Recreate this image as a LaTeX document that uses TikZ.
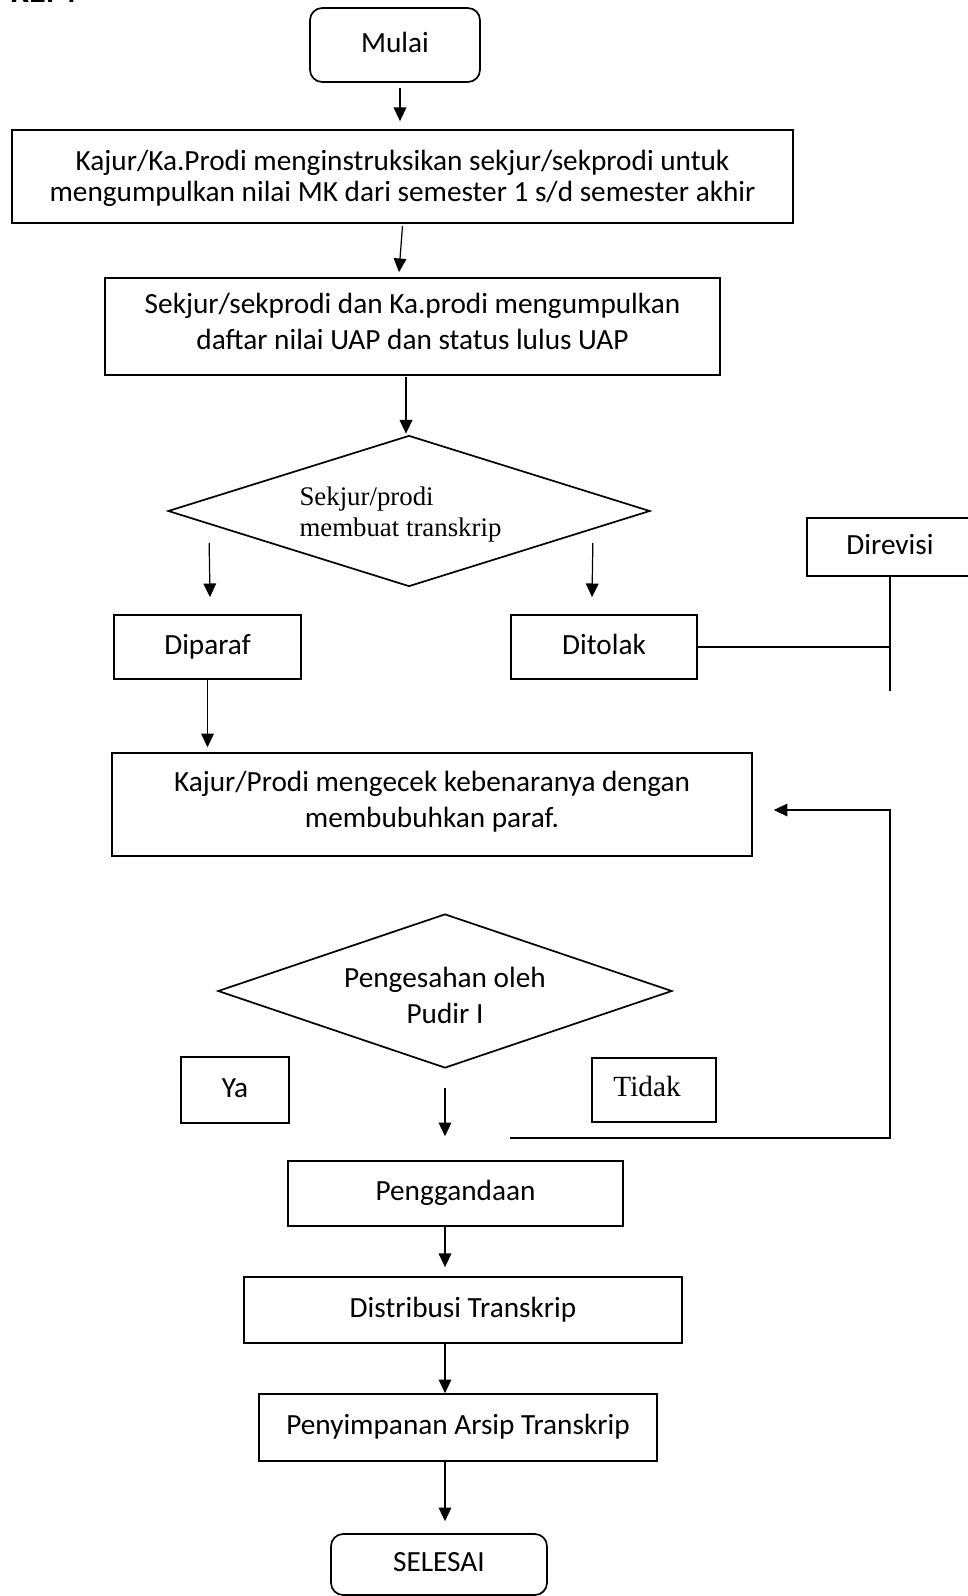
\documentclass[tikz,border=0pt]{standalone}
\usepackage{fontspec}
\setmainfont{Carlito}
\newfontfamily\tnr{Liberation Serif}
\usetikzlibrary{shapes.geometric,arrows.meta,calc}
\newcommand{\teks}{\fontsize{12}{14.7}\selectfont}

\begin{document}
\begin{tikzpicture}[x=0.41pt,y=-0.41pt,
  wh/.style 2 args={minimum width=#1*0.41pt,minimum height=#2*0.41pt},
  kotak/.style={draw,line width=0.7pt,inner sep=0pt,align=center,font=\teks,execute at begin node=\strut},
  bulat/.style={kotak,rounded corners=5pt},
  belah/.style={draw,diamond,line width=0.7pt,inner sep=0pt,shape aspect=3.2,align=center,font=\teks,execute at begin node=\strut},
  panah/.style={line width=0.5pt,-{Triangle[length=5.6pt,width=5.2pt]}},
  garis/.style={line width=0.5pt}]
\useasboundingbox (0,0) rectangle (968,1596);
\node[anchor=base west,inner sep=0pt,font=\fontsize{14}{16}\selectfont\bfseries] (judul) at (10,3) {KEM};
\node[bulat,wh={170}{74}] (mulai) at (395,45) {Mulai};
\node[kotak,wh={781}{93},font=\fontsize{12}{12.7}\selectfont] (instruksi) at (402.5,176.5) {\rule{0pt}{11.5pt}Kajur/Ka.Prodi menginstruksikan sekjur/sekprodi untuk\\mengumpulkan nilai MK dari semester 1 s/d semester akhir};
\node[kotak,wh={615}{97}] (kumpul) at (412.5,326.5) {Sekjur/sekprodi dan Ka.prodi mengumpulkan\\daftar nilai UAP dan status lulus UAP};
\node[belah,wh={482}{151},align=left,font=\tnr\fontsize{11}{12.7}\selectfont] (buat) at (409,511) {\rule{0pt}{12.3pt}Sekjur/prodi\\membuat transkrip\hbox to 7pt{}};
\node[kotak,wh={187}{64}] (diparaf) at (207.5,647) {Diparaf};
\node[kotak,wh={186}{64}] (ditolak) at (604,647) {Ditolak};
\node[kotak,wh={166}{58}] (direvisi) at (890,547) {Direvisi};
\node[kotak,wh={640}{103}] (cek) at (432,804.5) {Kajur/Prodi mengecek kebenaranya dengan\\membubuhkan paraf.};
\node[belah,wh={454}{154},shape aspect=2.95] (sah) at (445,991) {\rule{0pt}{16pt}Pengesahan oleh\\Pudir I};
\node[kotak,wh={108}{66}] (ya) at (235,1090) {Ya};
\node[kotak,wh={124}{64},font=\tnr\fontsize{12}{14}\selectfont] (tidak) at (654,1090) {Tidak\hbox to 5.7pt{}};
\node[kotak,wh={335}{65}] (gandakan) at (455.5,1193.5) {Penggandaan};
\node[kotak,wh={438}{66}] (distribusi) at (463,1310) {Distribusi Transkrip};
\node[kotak,wh={398}{67}] (simpan) at (458,1427.5) {Penyimpanan Arsip Transkrip};
\node[bulat,wh={216}{61}] (selesai) at (439,1564.5) {SELESAI};
\coordinate (balik) at (510,1138);
\coordinate (sudut) at (890,810);
\draw[panah] ($(mulai.south)+(5,5)$) -- ($(instruksi.north)+(-2.5,-8)$);
\draw[panah] ($(instruksi.south)+(0,2)$) -- ($(kumpul.north)+(-13.5,-5)$);
\draw[panah] ($(kumpul.south)+(-6.5,1)$) -- ($(buat.north)+(-3,-1)$);
\draw[panah] ($(buat.west)+(42,32)$) -- ($(diparaf.north)+(2.5,-17)$);
\draw[panah] ($(buat.east)+(-58,32)$) -- ($(ditolak.north)+(-12,-17)$);
\draw[garis] (ditolak.east) -- (ditolak.east -| direvisi.south);
\draw[garis] (direvisi.south) -- ++(0,114);
\draw[panah,shorten >=2pt] (diparaf.south) -- (diparaf.south |- cek.north);
\draw[panah,shorten >=8.6pt] (balik) -| (sudut) -- (sudut -| cek.east);
\draw[panah,shorten <=7.8pt,shorten >=9.8pt] (sah.south) -- (sah.south |- gandakan.north);
\draw[panah,shorten >=3.7pt] (gandakan.south -| sah) -- (distribusi.north -| sah);
\draw[panah] (distribusi.south -| sah) -- (simpan.north -| sah);
\draw[panah,shorten >=4.9pt] (simpan.south -| sah) -- (selesai.north -| sah);
\end{tikzpicture}
\end{document}
